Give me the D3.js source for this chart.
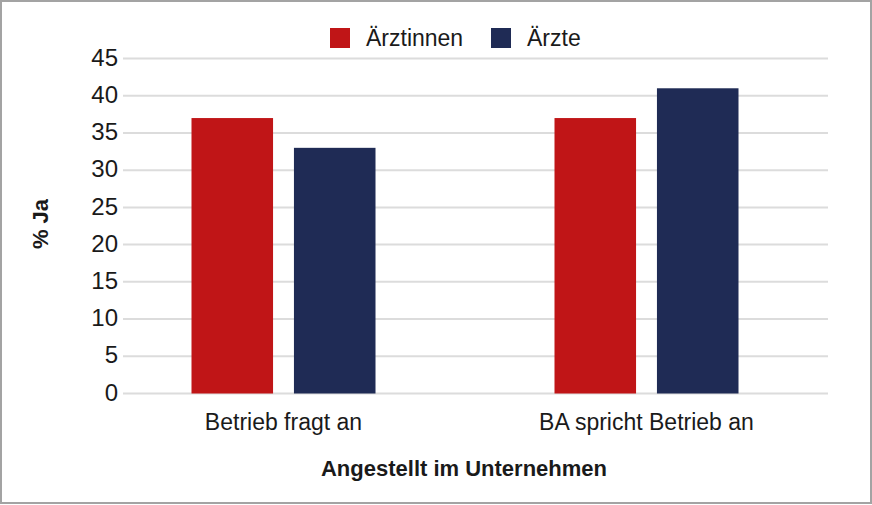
<!DOCTYPE html>
<html>
<head>
<meta charset="utf-8">
<script src="https://cdn.jsdelivr.net/npm/d3@7"></script>
<style>
  body { margin: 0; background: #fff; }
  svg { display: block; font-family: "Liberation Sans", Arial, sans-serif; }
  .tick-label { fill: #1a1a1a; font-size: 24px; }
  .cat-label, .legend-label { fill: #1a1a1a; font-size: 23px; }
  .axis-title { fill: #1a1a1a; font-size: 22px; font-weight: bold; }
</style>
</head>
<body>
<div id="chart"></div>
<script>
// Data
const categories = ['Betrieb fragt an', 'BA spricht Betrieb an'];
const seriesNames = ['Ärztinnen', 'Ärzte'];
const aerztinnen = [37, 37];
const aerzte = [33, 41];
const yTicks = [0, 5, 10, 15, 20, 25, 30, 35, 40, 45];
const colors = ['#c01517', '#1f2b55'];

const width = 872, height = 505;

const svg = d3.select('#chart').append('svg')
    .attr('width', width)
    .attr('height', height);

// Outer frame
svg.append('rect')
    .attr('x', 1).attr('y', 1)
    .attr('width', width - 2).attr('height', height - 3)
    .attr('fill', 'none')
    .attr('stroke', '#a3a3a3')
    .attr('stroke-width', 2);

const y = d3.scaleLinear().domain([0, 45]).range([393.5, 58.5]);
const x0 = d3.scaleBand().domain(categories).range([102, 828]);
const x1 = d3.scaleBand().domain(seriesNames)
    .range([(x0.bandwidth() - 184) / 2, (x0.bandwidth() + 184) / 2])
    .paddingInner(0.204);

// Gridlines + tick labels
const grid = svg.append('g');
grid.selectAll('line')
    .data(yTicks)
  .join('line')
    .attr('x1', 123).attr('x2', 828)
    .attr('y1', d => y(d)).attr('y2', d => y(d))
    .attr('stroke', '#dcdcdc')
    .attr('stroke-width', 2);

grid.selectAll('text')
    .data(yTicks)
  .join('text')
    .attr('class', 'tick-label')
    .attr('x', 118)
    .attr('y', d => y(d))
    .attr('dy', '0.3em')
    .attr('text-anchor', 'end')
    .text(d => d);

// Bars
const rows = categories.map((c, i) => ({
  cat: c,
  values: [{ key: seriesNames[0], value: aerztinnen[i] }, { key: seriesNames[1], value: aerzte[i] }]
}));

const groups = svg.append('g').selectAll('g')
    .data(rows)
  .join('g')
    .attr('transform', d => `translate(${x0(d.cat)},0)`);

groups.selectAll('rect')
    .data(d => d.values)
  .join('rect')
    .attr('x', d => x1(d.key))
    .attr('width', x1.bandwidth())
    .attr('y', d => y(d.value))
    .attr('height', d => y(0) - y(d.value))
    .attr('fill', (d, i) => colors[i]);

// Category labels
svg.append('g').selectAll('text')
    .data(categories)
  .join('text')
    .attr('class', 'cat-label')
    .attr('x', d => x0(d) + x0.bandwidth() / 2)
    .attr('y', 430)
    .attr('text-anchor', 'middle')
    .text(d => d);

// Axis titles
svg.append('text')
    .attr('class', 'axis-title')
    .attr('x', 464)
    .attr('y', 476)
    .attr('text-anchor', 'middle')
    .text('Angestellt im Unternehmen');

svg.append('text')
    .attr('class', 'axis-title')
    .attr('transform', 'translate(48,224) rotate(-90)')
    .attr('text-anchor', 'middle')
    .text('% Ja');

// Legend
const legendX = [330, 491];
const legend = svg.append('g').selectAll('g')
    .data(seriesNames)
  .join('g')
    .attr('transform', (d, i) => `translate(${legendX[i]},28)`);

legend.append('rect')
    .attr('width', 20).attr('height', 20)
    .attr('fill', (d, i) => colors[i]);

legend.append('text')
    .attr('class', 'legend-label')
    .attr('x', 36)
    .attr('y', 10)
    .attr('dy', '0.35em')
    .text(d => d);
</script>
</body>
</html>
